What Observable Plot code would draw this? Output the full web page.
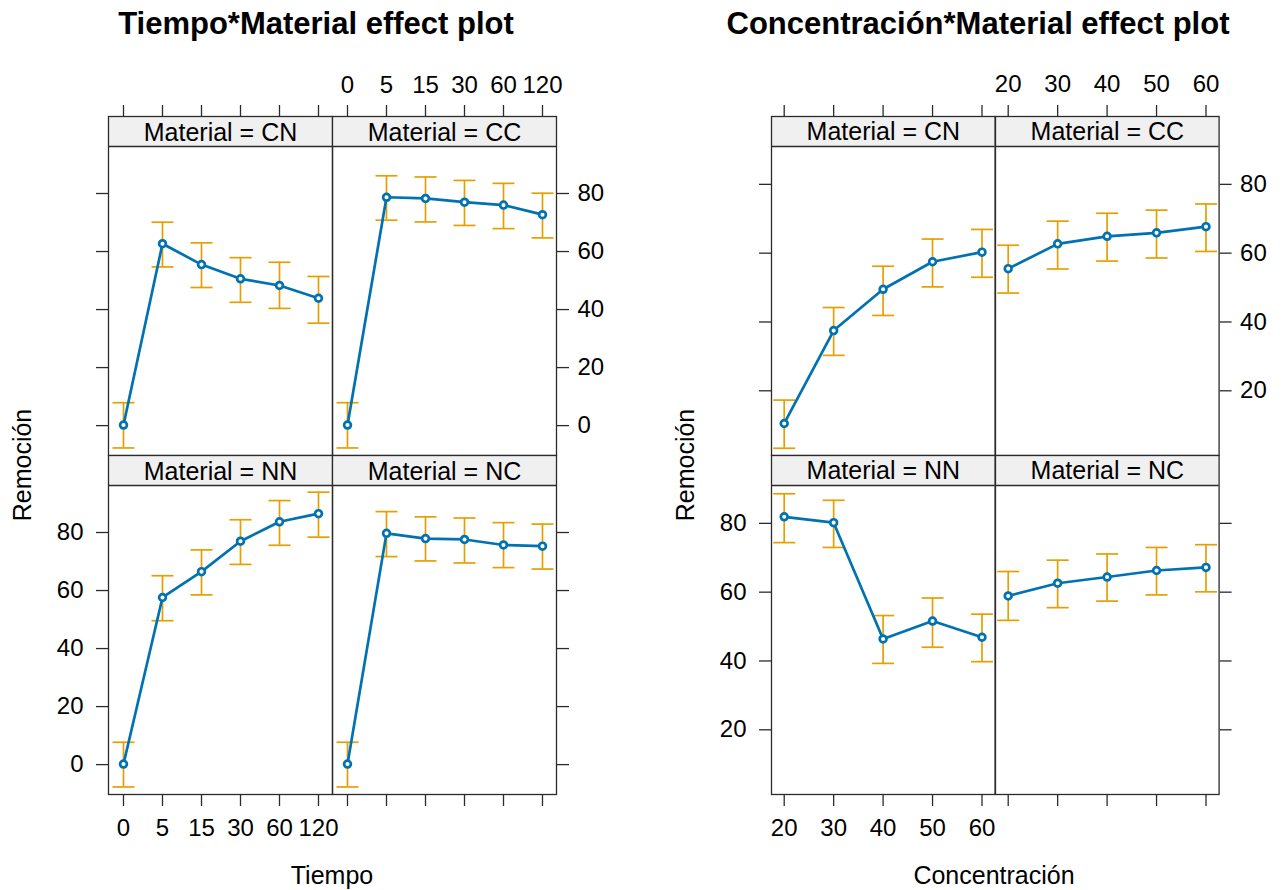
<!DOCTYPE html>
<html>
<head>
<meta charset="utf-8">
<script src="https://cdn.jsdelivr.net/npm/d3@7"></script>
<script src="https://cdn.jsdelivr.net/npm/@observablehq/plot@0.6"></script>
<style>
  html, body { margin: 0; padding: 0; background: #fff; }
  #root { position: relative; width: 1285px; height: 890px; overflow: hidden; font-family: "Liberation Sans", Arial, sans-serif; color: #000; }
  .lbl { position: absolute; white-space: nowrap; line-height: 1; }
  .title { font-weight: bold; font-size: 31px; transform: translateX(-50%); }
  .axt { font-size: 25px; transform: translateX(-50%); }
  .axy { font-size: 25px; transform: translate(-50%, -50%) rotate(-90deg); }
  svg { overflow: visible; }
</style>
</head>
<body>
<div id="root"></div>
<script>
// ---------- data ----------
const materials = ["CN", "CC", "NN", "NC"];
const tiempoLevels = ["0", "5", "15", "30", "60", "120"];
const concLevels = [20, 30, 40, 50, 60];
const yTicksTiempo = [0, 20, 40, 60, 80];
const yTicksConc = [20, 40, 60, 80];

// Tiempo*Material effects (fit, lower, upper)
const tiempoFitCN = [0.2, 62.7, 55.5, 50.6, 48.3, 43.9];
const tiempoLowCN = [-7.7, 54.7, 47.6, 42.5, 40.4, 35.3];
const tiempoUppCN = [7.9, 70.1, 63.0, 57.9, 56.3, 51.4];
const tiempoFitCC = [0.2, 78.7, 78.3, 77.0, 76.0, 72.7];
const tiempoLowCC = [-7.7, 70.8, 70.2, 69.0, 67.9, 64.7];
const tiempoUppCC = [7.9, 86.1, 85.7, 84.5, 83.5, 80.1];
const tiempoFitNN = [0.2, 57.6, 66.5, 77.0, 83.7, 86.5];
const tiempoLowNN = [-7.7, 49.6, 58.5, 69.0, 75.6, 78.4];
const tiempoUppNN = [7.7, 65.1, 74.0, 84.4, 91.0, 93.9];
const tiempoFitNC = [0.2, 79.7, 77.9, 77.6, 75.7, 75.3];
const tiempoLowNC = [-7.7, 71.7, 70.2, 69.5, 67.9, 67.4];
const tiempoUppNC = [7.7, 87.2, 85.4, 85.0, 83.4, 82.9];

// Concentración*Material effects (fit, lower, upper)
const concFitCN = [10.5, 37.5, 49.5, 57.5, 60.3];
const concLowCN = [3.3, 30.3, 41.9, 50.2, 53.0];
const concUppCN = [17.3, 44.2, 56.2, 64.1, 66.9];
const concFitCC = [55.5, 62.7, 64.9, 65.9, 67.7];
const concLowCC = [48.4, 55.4, 57.7, 58.6, 60.5];
const concUppCC = [62.3, 69.3, 71.6, 72.5, 74.3];
const concFitNN = [81.9, 80.2, 46.4, 51.6, 46.9];
const concLowNN = [74.4, 73.0, 39.3, 44.0, 39.8];
const concUppNN = [88.6, 86.7, 53.2, 58.3, 53.6];
const concFitNC = [58.9, 62.6, 64.4, 66.3, 67.2];
const concLowNC = [51.8, 55.5, 57.4, 59.2, 60.1];
const concUppNC = [66.0, 69.3, 71.1, 73.0, 73.8];

const tiempoSeries = {
  CN: [tiempoFitCN, tiempoLowCN, tiempoUppCN],
  CC: [tiempoFitCC, tiempoLowCC, tiempoUppCC],
  NN: [tiempoFitNN, tiempoLowNN, tiempoUppNN],
  NC: [tiempoFitNC, tiempoLowNC, tiempoUppNC]
};
const concSeries = {
  CN: [concFitCN, concLowCN, concUppCN],
  CC: [concFitCC, concLowCC, concUppCC],
  NN: [concFitNN, concLowNN, concUppNN],
  NC: [concFitNC, concLowNC, concUppNC]
};

// ---------- styling ----------
const BLUE = "#0072B2", ORANGE = "#E69F00", STRIP = "#F0F0F0", FRAME = "#2b2b2b";
const FONT = "Liberation Sans, Arial, sans-serif";
const TICKFS = 24, STRIPFS = 25;
const STRIP_H = 30, DATA_H = 309, PANEL_W = 224;
const M = 70; // svg margins around each panel

const root = document.getElementById("root");

// custom horizontal-cap symbol for error bars
const capSymbol = { draw(ctx) { ctx.moveTo(-11, 0); ctx.lineTo(11, 0); } };

function panel(opts) {
  const { left, top, width, xScale, xTicks, yDomain, yTicks, levels, fit, low, upp, label, axes } = opts;
  const [lo, hi] = yDomain;
  const stripTop = hi + (hi - lo) * STRIP_H / DATA_H;
  const data = levels.map((lv, i) => ({ x: lv, fit: fit[i], low: low[i], upp: upp[i] }));
  const blank = () => "";
  const marks = [
    Plot.rect([label], { y1: () => hi, y2: () => stripTop, fill: STRIP }),
    Plot.text([label], { y: () => (hi + stripTop) / 2, text: d => "Material = " + d, fontSize: STRIPFS, fill: "#000", dy: 1 }),
    Plot.ruleX(data, { x: "x", y1: "low", y2: "upp", stroke: ORANGE, strokeWidth: 1.7 }),
    Plot.dot(data, { x: "x", y: "low", symbol: capSymbol, r: 5, stroke: ORANGE, strokeWidth: 1.7, fill: "none" }),
    Plot.dot(data, { x: "x", y: "upp", symbol: capSymbol, r: 5, stroke: ORANGE, strokeWidth: 1.7, fill: "none" }),
    Plot.line(data, { x: "x", y: "fit", stroke: BLUE, strokeWidth: 2.7 }),
    Plot.dot(data, { x: "x", y: "fit", r: 3.4, stroke: BLUE, strokeWidth: 2.7, fill: "white" }),
    Plot.ruleY([hi], { stroke: FRAME, strokeWidth: 1.3 }),
    Plot.frame({ stroke: FRAME, strokeWidth: 1.3 })
  ];
  // axes
  const axOpt = { tickSize: 12, fontSize: TICKFS, label: null, stroke: FRAME, strokeWidth: 1.3 };
  if (axes.top != null) marks.push(Plot.axisX(xTicks, { ...axOpt, anchor: "top", tickPadding: 12, tickFormat: axes.top ? d => String(d) : blank }));
  if (axes.bottom != null) marks.push(Plot.axisX(xTicks, { ...axOpt, anchor: "bottom", tickPadding: 12, tickFormat: axes.bottom ? d => String(d) : blank }));
  if (axes.left != null) marks.push(Plot.axisY(yTicks, { ...axOpt, anchor: "left", tickPadding: 13, tickFormat: axes.left ? d => String(d) : blank }));
  if (axes.right != null) marks.push(Plot.axisY(yTicks, { ...axOpt, anchor: "right", tickPadding: 9, tickFormat: axes.right ? d => String(d) : blank }));

  const chart = Plot.plot({
    width: width + 2 * M,
    height: STRIP_H + DATA_H + 2 * M,
    marginLeft: M, marginRight: M, marginTop: M, marginBottom: M,
    style: { background: "transparent", fontFamily: FONT, overflow: "visible", maxWidth: "none" },
    x: { ...xScale, axis: null },
    y: { domain: [lo, stripTop], axis: null },
    marks
  });
  chart.style.position = "absolute";
  chart.style.left = (left - M) + "px";
  chart.style.top = (top - M) + "px";
  root.appendChild(chart);
}

function effectPlot(cfg) {
  const layout = [
    { mat: "CN", col: 0, row: 0, axes: { top: false, left: false } },
    { mat: "CC", col: 1, row: 0, axes: { top: true, right: true } },
    { mat: "NN", col: 0, row: 1, axes: { bottom: true, left: true } },
    { mat: "NC", col: 1, row: 1, axes: { bottom: false, right: false } }
  ];
  for (const p of layout) {
    const [fit, low, upp] = cfg.series[p.mat];
    panel({
      left: cfg.x0 + p.col * cfg.colW,
      top: cfg.y0 + p.row * (STRIP_H + DATA_H),
      width: cfg.colW,
      xScale: cfg.xScale,
      xTicks: cfg.xTicks,
      levels: cfg.levels,
      yDomain: cfg.yDomain,
      yTicks: cfg.yTicks,
      fit, low, upp,
      label: p.mat,
      axes: p.axes
    });
  }
}

effectPlot({
  x0: 108, y0: 116, colW: PANEL_W,
  xScale: { type: "point", domain: tiempoLevels, padding: 0.35 },
  xTicks: tiempoLevels,
  levels: tiempoLevels,
  yDomain: [-10.3, 96.2],
  yTicks: yTicksTiempo,
  series: tiempoSeries
});

effectPlot({
  x0: 771.3, y0: 116, colW: 223.6,
  xScale: { type: "linear", domain: [17.43, 62.65] },
  xTicks: concLevels,
  levels: concLevels,
  yDomain: [1.2, 91.0],
  yTicks: yTicksConc,
  series: concSeries
});

// titles and axis titles
function label(text, cls, x, y) {
  const d = document.createElement("div");
  d.className = "lbl " + cls;
  d.textContent = text;
  d.style.left = x + "px";
  d.style.top = y + "px";
  root.appendChild(d);
}
label("Tiempo*Material effect plot", "title", 316, 8);
label("Concentración*Material effect plot", "title", 978, 8);
label("Tiempo", "axt", 332, 863);
label("Concentración", "axt", 994, 863);
label("Remoción", "axy", 22, 465);
label("Remoción", "axy", 685, 465);
</script>
</body>
</html>
